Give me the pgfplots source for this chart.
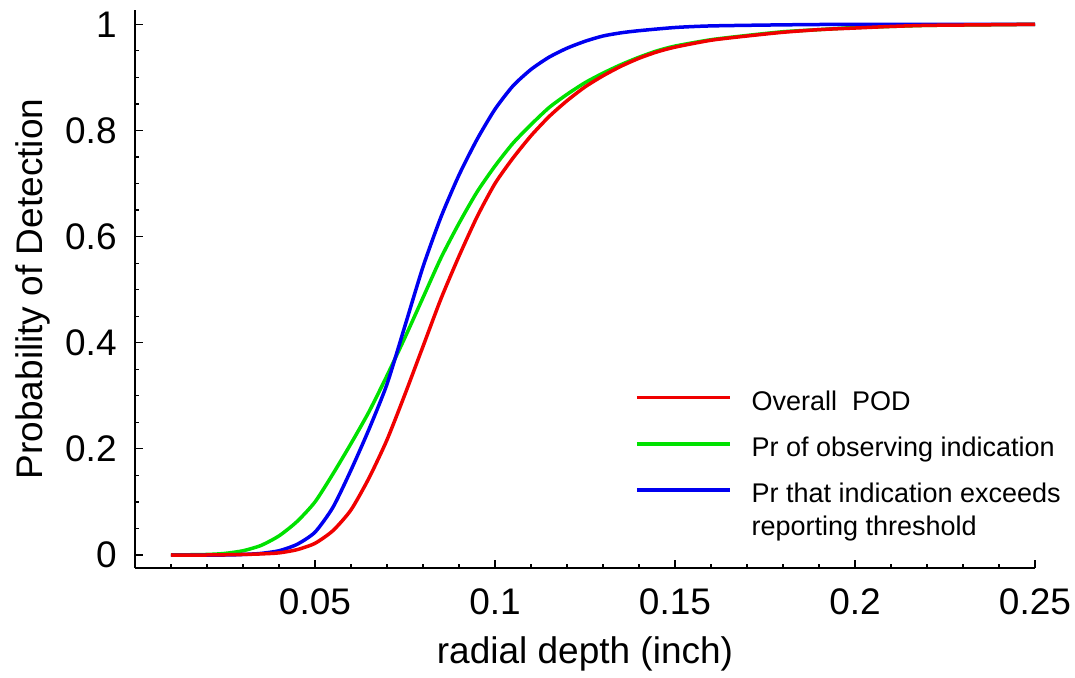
\documentclass[border=0pt]{standalone}
\usepackage{fontspec}
\setmainfont{Liberation Sans}
\usepackage{pgfplots}
\pgfplotsset{compat=1.18}

\definecolor{podred}{RGB}{240,0,0}
\definecolor{podgreen}{RGB}{0,225,0}
\definecolor{podblue}{RGB}{0,0,240}

% legend line raised to the first line of a two-line entry
\pgfplotsset{twolineleg/.style={legend image code/.code={\draw[##1] (0pt,9.45pt) -- (46.5pt,9.45pt);}}}

\pgfplotstableread{
x y
0.01 0
0.02 0
0.03 0.001
0.035 0.002
0.04 0.004
0.045 0.010
0.05 0.022
0.055 0.046
0.06 0.085
0.065 0.145
0.07 0.217
0.075 0.303
0.08 0.393
0.085 0.483
0.09 0.563
0.095 0.637
0.1 0.700
0.105 0.748
0.11 0.790
0.115 0.826
0.12 0.856
0.125 0.882
0.13 0.903
0.135 0.921
0.14 0.936
0.145 0.948
0.15 0.957
0.16 0.970
0.17 0.978
0.18 0.985
0.19 0.990
0.2 0.993
0.21 0.996
0.22 0.998
0.235 0.999
0.25 1
}\overall

\pgfplotstableread{
x y
0.01 0
0.02 0.001
0.025 0.003
0.03 0.008
0.035 0.018
0.04 0.036
0.045 0.063
0.05 0.100
0.055 0.153
0.06 0.210
0.065 0.270
0.07 0.338
0.075 0.410
0.08 0.485
0.085 0.560
0.09 0.625
0.095 0.684
0.1 0.733
0.105 0.776
0.11 0.811
0.115 0.843
0.12 0.868
0.125 0.890
0.13 0.908
0.135 0.924
0.14 0.938
0.145 0.950
0.15 0.959
0.16 0.971
0.17 0.979
0.18 0.986
0.19 0.990
0.2 0.994
0.21 0.996
0.22 0.998
0.235 0.999
0.25 1
}\observe

\pgfplotstableread{
x y
0.01 0
0.025 0
0.03 0.001
0.035 0.003
0.04 0.008
0.045 0.020
0.05 0.043
0.055 0.090
0.06 0.160
0.065 0.237
0.07 0.322
0.075 0.432
0.08 0.543
0.085 0.637
0.09 0.716
0.095 0.783
0.1 0.840
0.105 0.884
0.11 0.915
0.115 0.938
0.12 0.955
0.125 0.968
0.13 0.978
0.135 0.984
0.14 0.988
0.15 0.994
0.16 0.997
0.18 0.999
0.2 1
0.25 1
}\exceed

\begin{document}
\begin{tikzpicture}
\begin{axis}[
  scale only axis, width=450pt, height=279pt,
  xmin=0, xmax=0.25, ymin=-0.0245, ymax=1.027,
  axis lines*=left,
  axis line style={line width=1.2pt},
  tick align=inside,
  scaled ticks=false,
  xtick={0.05,0.1,0.15,0.2,0.25},
  xticklabels={0.05,0.1,0.15,0.2,0.25},
  minor xtick={0.01,0.02,0.03,0.04,0.06,0.07,0.08,0.09,0.11,0.12,0.13,0.14,0.16,0.17,0.18,0.19,0.21,0.22,0.23,0.24},
  ytick={0,0.2,0.4,0.6,0.8,1},
  yticklabels={0,0.2,0.4,0.6,0.8,1},
  minor ytick={0.05,0.1,0.15,0.25,0.3,0.35,0.45,0.5,0.55,0.65,0.7,0.75,0.85,0.9,0.95},
  major tick length=4pt, minor tick length=2.2pt,
  every tick/.style={black, line width=0.6pt},
  tick label style={font=\fontsize{18.5}{22}\selectfont},
  xticklabel style={inner sep=0pt, anchor=north, yshift=-10pt},
  yticklabel style={inner sep=0pt, anchor=east, xshift=-9pt},
  xlabel={radial depth (inch)},
  ylabel={Probability of Detection},
  every axis x label/.style={at={(axis description cs:0.5,-0.1703)}, anchor=base,
    font=\fontsize{18.5}{22}\selectfont},
  every axis y label/.style={at={(axis description cs:-0.1033,0.5)}, rotate=90, anchor=base,
    font=\fontsize{18.5}{22}\selectfont},
  legend style={draw=none, fill=none, at={(rel axis cs:0.5556,0.3426)}, anchor=north west,
    inner sep=0pt, outer sep=0pt, column sep=8pt,
    font=\fontsize{13.5}{16.5}\selectfont, nodes={inner xsep=2pt, inner ysep=5.05pt, align=left}},
  legend cell align=left,
  legend image code/.code={\draw[#1] (0pt,1.2pt) -- (46.5pt,1.2pt);},
  every axis plot/.append style={line width=1.75pt, line join=round, smooth, tension=0.4},
]
\addplot[podgreen, forget plot] table {\observe};
\addplot[podblue, forget plot] table {\exceed};
\addplot[podred] table {\overall};
\addlegendentry{\strut Overall\ \ POD}
\addlegendimage{podgreen, line width=1.75pt}
\addlegendentry{\strut Pr of observing indication}
\addlegendimage{podblue, line width=1.75pt, twolineleg}
\addlegendentry{\strut Pr that indication exceeds\\\strut reporting threshold}
\coordinate (A) at (rel axis cs:0,0);
\coordinate (B) at (rel axis cs:1,1);
\end{axis}
\path ([shift={(-67.5pt,-51.5pt)}]A) rectangle ([shift={(20pt,5pt)}]B);
\end{tikzpicture}
\end{document}
